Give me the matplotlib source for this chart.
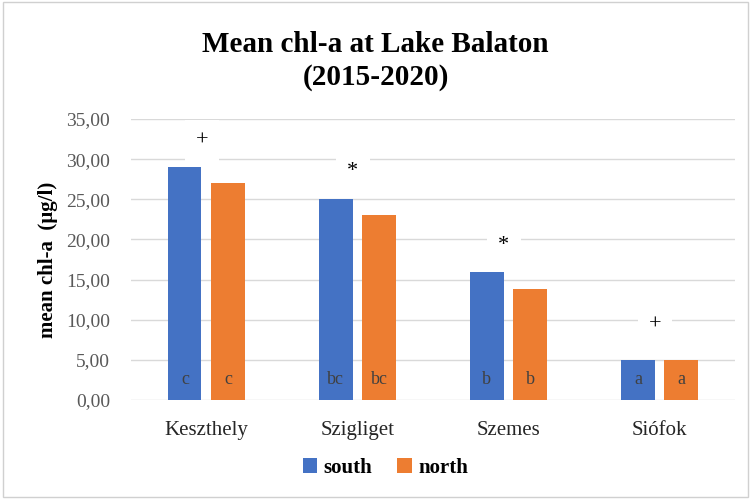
import numpy as np
import matplotlib.pyplot as plt
from matplotlib.patches import Rectangle

sites = ["Keszthely", "Szigliget", "Szemes", "Siófok"]
south = [29.0, 25.0, 15.9, 5.0]
north = [27.0, 23.0, 13.8, 5.0]
letters = ["c", "bc", "b", "a"]
marks = ["+", "*", "*", "+"]
mark_y = [32.3, 28.4, 19.2, 9.3]
yticks = [0, 5, 10, 15, 20, 25, 30, 35]

blue = "#4472c4"
orange = "#ed7d31"
serif = "Liberation Serif"

fig = plt.figure(figsize=(7.51, 4.99), dpi=100)
fig.patches.append(Rectangle((0.004, 0.004), 0.992, 0.992, transform=fig.transFigure,
                             fill=False, edgecolor="#d0d0d0", linewidth=1))
ax = fig.add_axes([0.1744, 0.1984, 0.8043, 0.5631])

x = np.arange(len(sites))
w = 0.22
off = 0.143
ax.bar(x - off, south, width=w, color=blue, label="south", zorder=2)
ax.bar(x + off, north, width=w, color=orange, label="north", zorder=2)

for i in range(len(sites)):
    for xx in (x[i] - off, x[i] + off):
        ax.text(xx, 2.5, letters[i], ha="center", va="center", fontsize=13,
                family=serif, color="#404040", zorder=3)
    ax.text(x[i] - 0.03, mark_y[i], marks[i], ha="center", va="center", fontsize=16,
            family=serif, color="black", zorder=3,
            bbox=dict(boxstyle="square,pad=0.5", facecolor="white", edgecolor="none"))

ax.set_xlim(-0.5, 3.5)
ax.set_ylim(0, 35)
ax.set_yticks(yticks)
ax.set_yticklabels([f"{v:.2f}".replace(".", ",") for v in yticks],
                   family=serif, fontsize=14, color="#595959")
ax.set_xticks(x)
ax.set_xticklabels(sites, family=serif, fontsize=15, color="#262626")
ax.tick_params(axis="y", length=0, pad=15)
ax.tick_params(axis="x", length=0, pad=15)
ax.grid(axis="y", color="#d9d9d9", linewidth=1, zorder=0)
ax.set_axisbelow(True)
for s in ax.spines.values():
    s.set_visible(False)

ax.set_ylabel("mean chl-a  (µg/l)", family=serif, fontsize=15, fontweight="bold",
              labelpad=6)
fig.text(0.5, 0.878, "Mean chl-a at Lake Balaton\n(2015-2020)", ha="center",
         va="center", family=serif, fontsize=21, fontweight="bold", linespacing=1.3)

fig.legend(loc="center", bbox_to_anchor=(0.513, 1 - 468 / 499), ncol=2, frameon=False,
           prop={"family": serif, "size": 15, "weight": "bold"},
           handlelength=0.7, handleheight=0.7, handletextpad=0.3, columnspacing=1.2)

fig.savefig("out.png", dpi=100)
